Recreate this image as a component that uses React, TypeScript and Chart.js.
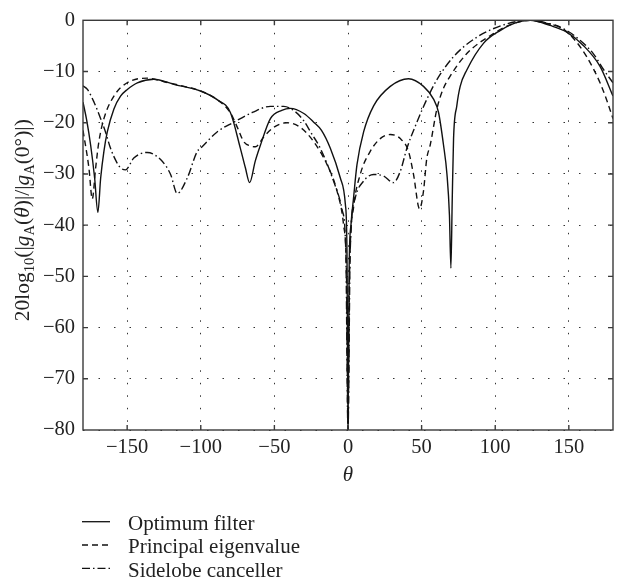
import React, { useEffect, useRef } from 'react';
import { Chart, registerables } from 'chart.js';

Chart.register(...registerables);

const FONT = "'Liberation Serif', 'DejaVu Serif', serif";

// ---- data (theta in degrees, gain in dB) ----
const thetaOptimum = [
  -180, -177.5, -174.8, -172.1, -169.9, -168, -165.8, -163.5, -159, -154.5,
  -149.9, -143.1, -131.9, -118.3, -100.2, -88.9, -79.9, -73.1, -69.7, -66.8,
  -63, -59.5, -52.7, -45, -39.1, -30, -23.3, -18, -12, -5.2,
  -1.8, -0.7, 0, 0.8, 2, 3.8, 6.1, 10.6, 17.4, 28.7,
  41.1, 51.3, 58.1, 61.5, 64.9, 67.2, 68.9, 69.9, 70.8, 71.7,
  73.9, 76.2, 80.7, 92, 103.3, 114.7, 123.7, 137.2, 148.6, 159.8,
  171.2, 180,
];
const gainOptimum = [
  -16, -19.5, -24.4, -30.8, -37.5, -30.8, -25.6, -21.8, -17.3, -14.8,
  -13.5, -12.2, -11.5, -12.5, -13.8, -15.5, -18, -25, -28.8, -31.7,
  -27.5, -24.4, -19.2, -17.6, -17.2, -18.2, -19.9, -21.5, -25, -30.8,
  -35.9, -45, -80, -48, -40, -34.6, -28.2, -21.8, -16.7, -12.9,
  -11.4, -12.9, -15.4, -18, -24.4, -30, -38, -48.4, -35, -23.1,
  -16.7, -12.9, -9.7, -4.5, -2, -0.4, 0, -1, -2.3, -4.9,
  -9, -14.8,
];

const thetaEigen = [
  -180, -176, -173.7, -171.4, -169.2, -165.8, -159, -150, -136.4, -125,
  -110, -100.2, -88.9, -80, -75, -70.8, -66.5, -62.9, -57.3, -50.5,
  -41.4, -32.4, -23.3, -14.2, -7.5, -3, -1, 0, 1, 3.8,
  8.3, 15.1, 21.9, 28.7, 35.5, 41.1, 44.5, 48.6, 51.3, 53.5,
  55.8, 60.4, 64.5, 69.4, 80.7, 98.8, 110, 123.7, 133, 144,
  153, 162.1, 171.2, 176, 180,
];
const gainEigen = [
  -21.5, -28.8, -34.9, -28.8, -23.7, -19.2, -14.8, -12.2, -11.3, -12,
  -13, -13.8, -15.5, -18, -21, -23.7, -24.5, -24.7, -22.8, -20.9,
  -20, -20.9, -23.7, -28.2, -33.3, -40, -50, -80, -50, -36.5,
  -30.1, -25.6, -23.1, -22.3, -23.1, -25.6, -30.1, -36.8, -33.3, -27,
  -24.4, -17.3, -13.5, -10.9, -6.5, -2.6, -0.9, 0, -0.5, -1.3,
  -3.5, -7.1, -12.2, -15.8, -19.2,
];

const thetaSidelobe = [
  -180, -177, -172.5, -168, -164.5, -161.3, -157.5, -154.5, -151.1, -145.5,
  -136.4, -127.3, -120.5, -116, -109.2, -102.4, -100.2, -88.9, -77.6, -65,
  -52.7, -43.7, -36, -30.1, -25, -18.8, -9.8, -4, -1.5, 0,
  1.5, 5, 10.6, 17.4, 24.2, 30.9, 35.5, 40, 46.8, 53.6,
  60.4, 71.7, 87.5, 107.9, 123.7, 136, 148.6, 158, 166.6, 174,
  180,
];
const gainSidelobe = [
  -12.8, -13.5, -16, -19.2, -22, -25, -27.5, -28.8, -29.2, -26.9,
  -25.8, -27.2, -30.1, -33.8, -30.8, -25.6, -25, -21.8, -19.9, -18,
  -16.8, -16.8, -17.8, -19.6, -22, -25, -31.4, -37, -45, -80,
  -45, -34.6, -31.4, -30.1, -30.4, -31.7, -29.5, -25, -19.9, -15.4,
  -11.6, -7.1, -3.3, -0.7, 0, -0.6, -2, -4, -6.5, -9.8,
  -12.2,
];

const seriesLabels = ['Optimum filter', 'Principal eigenvalue', 'Sidelobe canceller'];
const xTickValues = [-150, -100, -50, 0, 50, 100, 150];
const yTickValues = [-80, -70, -60, -50, -40, -30, -20, -10, 0];
const xTitle = 'θ';

const fmt = (v: number) => (v < 0 ? '\u2212' + Math.abs(v) : String(v));
const pairs = (xs: number[], ys: number[]) => xs.map((x, i) => ({ x, y: ys[i] }));

const framePlugin = {
  id: 'frame',
  afterDraw(chart: any) {
    const { ctx, chartArea: a, scales } = chart;
    ctx.save();
    ctx.strokeStyle = '#3a3a3a';
    ctx.lineWidth = 1.4;
    ctx.setLineDash([]);
    ctx.strokeRect(a.left, a.top, a.right - a.left, a.bottom - a.top);
    const tl = 5;
    ctx.beginPath();
    xTickValues.forEach((v) => {
      const px = scales.x.getPixelForValue(v);
      ctx.moveTo(px, a.bottom); ctx.lineTo(px, a.bottom - tl);
      ctx.moveTo(px, a.top); ctx.lineTo(px, a.top + tl);
    });
    yTickValues.slice(1, -1).forEach((v) => {
      const py = scales.y.getPixelForValue(v);
      ctx.moveTo(a.left, py); ctx.lineTo(a.left + tl, py);
      ctx.moveTo(a.right, py); ctx.lineTo(a.right - tl, py);
    });
    ctx.stroke();
    ctx.restore();
  },
};

const yTitlePlugin = {
  id: 'ytitle',
  afterDraw(chart: any) {
    const { ctx, chartArea: a } = chart;
    const big = 21.5, small = 14.5;
    const pieces: { t: string; size: number; italic?: boolean; dy?: number }[] = [
      { t: '20log', size: big },
      { t: '10', size: small, dy: 4.5 },
      { t: '(|', size: big },
      { t: 'g', size: big, italic: true },
      { t: 'A', size: small, dy: 4.5 },
      { t: '(', size: big },
      { t: 'θ', size: big, italic: true },
      { t: ')|/|', size: big },
      { t: 'g', size: big, italic: true },
      { t: 'A', size: small, dy: 4.5 },
      { t: '(0°)|)', size: big },
    ];
    ctx.save();
    const fontOf = (p: any) => `${p.italic ? 'italic ' : ''}${p.size}px ${FONT}`;
    let total = 0;
    const widths = pieces.map((p) => { ctx.font = fontOf(p); const w = ctx.measureText(p.t).width; total += w; return w; });
    const cy = (a.top + a.bottom) / 2 - 5;
    ctx.translate(29, cy);
    ctx.rotate(-Math.PI / 2);
    ctx.fillStyle = '#222';
    ctx.textBaseline = 'alphabetic';
    ctx.textAlign = 'left';
    let x = -total / 2;
    pieces.forEach((p, i) => {
      ctx.font = fontOf(p);
      ctx.fillText(p.t, x, p.dy || 0);
      x += widths[i];
    });
    ctx.restore();
  },
};

const legendPlugin = {
  id: 'customLegend',
  afterDraw(chart: any) {
    const { ctx } = chart;
    ctx.save();
    chart.data.datasets.forEach((ds: any, i: number) => {
      const yLine = 521.7 + i * 23.3;
      ctx.strokeStyle = '#111';
      ctx.lineWidth = 1.3;
      ctx.setLineDash(ds.borderDash || []);
      ctx.beginPath();
      ctx.moveTo(82, yLine);
      ctx.lineTo(110, yLine);
      ctx.stroke();
      ctx.setLineDash([]);
      ctx.fillStyle = '#222';
      ctx.font = `21px ${FONT}`;
      ctx.textBaseline = 'alphabetic';
      ctx.textAlign = 'left';
      ctx.fillText(ds.label, 128, 530 + i * 23.3);
    });
    ctx.restore();
  },
};

export default function App() {
  const ref = useRef<HTMLCanvasElement>(null);
  useEffect(() => {
    document.body.style.margin = '0';
    const canvas = ref.current!;
    const lineBase = { showLine: true, pointRadius: 0, borderColor: '#111', borderWidth: 1.4, fill: false, cubicInterpolationMode: 'monotone' as const };
    const chart = new Chart(canvas, {
      type: 'scatter',
      data: {
        datasets: [
          { ...lineBase, label: seriesLabels[0], data: pairs(thetaOptimum, gainOptimum), borderDash: [] },
          { ...lineBase, label: seriesLabels[1], data: pairs(thetaEigen, gainEigen), borderDash: [6, 4] },
          { ...lineBase, label: seriesLabels[2], data: pairs(thetaSidelobe, gainSidelobe), borderDash: [8, 3, 1.5, 3] },
        ],
      },
      options: {
        animation: false,
        responsive: false,
        layout: { padding: { left: 0, right: 6, top: 13, bottom: 100 } },
        plugins: { legend: { display: false }, tooltip: { enabled: false } },
        scales: {
          x: {
            type: 'linear',
            min: -180,
            max: 180,
            afterBuildTicks: (s: any) => { s.ticks = xTickValues.map((v) => ({ value: v })); },
            afterFit: (s: any) => { s.height = 58; },
            ticks: { font: { family: FONT, size: 20.5 }, color: '#222', padding: 5, maxRotation: 0, autoSkip: false, callback: (v: any) => fmt(Number(v)) },
            grid: { color: '#333', lineWidth: 1, drawTicks: false },
            border: { display: false, dash: [1.5, 11] },
            title: { display: true, text: xTitle, color: '#222', font: { family: FONT, size: 21, style: 'italic' }, padding: { top: 0, bottom: 0 } },
          },
          y: {
            type: 'linear',
            min: -80,
            max: 0,
            afterBuildTicks: (s: any) => { s.ticks = yTickValues.map((v) => ({ value: v })); },
            afterFit: (s: any) => { s.width = 83; },
            ticks: { font: { family: FONT, size: 20.5 }, color: '#222', padding: 8, autoSkip: false, callback: (v: any) => fmt(Number(v)) },
            grid: { color: '#333', lineWidth: 1, drawTicks: false },
            border: { display: false, dash: [1.5, 14] },
          },
        },
      },
      plugins: [framePlugin, yTitlePlugin, legendPlugin],
    } as any);
    return () => chart.destroy();
  }, []);
  return (
    <div style={{ width: 619, height: 588 }}>
      <canvas ref={ref} width={619} height={588} style={{ display: 'block' }} />
    </div>
  );
}
